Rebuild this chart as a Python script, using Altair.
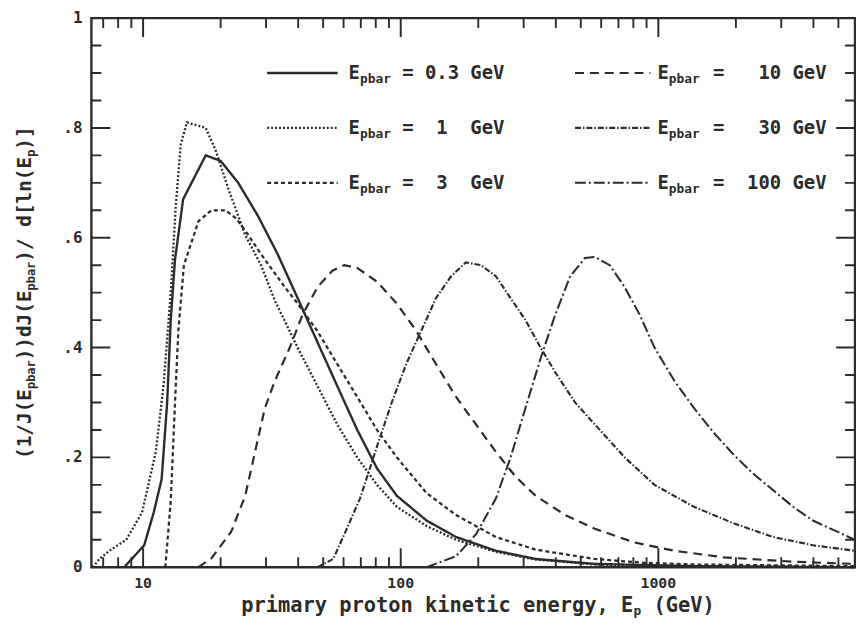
import altair as alt
import pandas as pd

# ---------------- data ----------------
series_labels = ["0.3 GeV", "1 GeV", "3 GeV", "10 GeV", "30 GeV", "100 GeV"]

e_03 = [8.45, 10.1, 11.0, 11.8, 12.4, 12.8, 13.3, 14.3, 17.5, 20.0, 23.4, 27.9, 33.3, 39.8,
        47.5, 56.7, 67.8, 80.9, 96.6, 126, 164, 234, 334, 567, 1374, 5781]
v_03 = [0.0, 0.04, 0.10, 0.16, 0.30, 0.45, 0.56, 0.67, 0.75, 0.74, 0.70, 0.64, 0.57, 0.49,
        0.41, 0.33, 0.25, 0.18, 0.13, 0.085, 0.055, 0.03, 0.015, 0.006, 0.002, 0.0]

e_1 = [6.37, 6.77, 7.40, 8.60, 9.91, 11.2, 12.0, 12.8, 13.4, 14.0, 14.8, 17.5, 19.1, 21.4,
       24.9, 28.7, 32.5, 39.8, 47.5, 56.7, 67.8, 80.9, 96.6, 126, 164, 234, 334, 567, 1374, 5781]
v_1 = [0.0, 0.015, 0.03, 0.05, 0.10, 0.21, 0.33, 0.50, 0.66, 0.77, 0.81, 0.80, 0.76, 0.69,
       0.605, 0.55, 0.485, 0.40, 0.33, 0.26, 0.20, 0.15, 0.11, 0.075, 0.05, 0.028, 0.014,
       0.005, 0.001, 0.0]

e_3 = [12.2, 12.8, 13.3, 13.7, 14.4, 16.4, 18.4, 20.9, 23.0, 25.6, 28.7, 35.5, 39.8, 47.5,
       56.7, 67.8, 80.9, 96.6, 126, 164, 234, 334, 567, 883, 1374, 5781]
v_3 = [0.0, 0.12, 0.30, 0.43, 0.55, 0.63, 0.65, 0.65, 0.635, 0.605, 0.57, 0.51, 0.48, 0.43,
       0.37, 0.31, 0.25, 0.20, 0.135, 0.095, 0.055, 0.032, 0.015, 0.008, 0.005, 0.002]

e_10 = [16.4, 18.4, 22.0, 24.9, 27.2, 29.7, 32.5, 37.1, 41.6, 47.5, 54.3, 60.4, 67.8, 80.9,
        96.6, 115, 137, 164, 196, 234, 279, 334, 435, 567, 809, 1152, 1795, 3334, 5781]
v_10 = [0.0, 0.016, 0.065, 0.13, 0.21, 0.29, 0.34, 0.40, 0.46, 0.51, 0.54, 0.55, 0.545, 0.52,
        0.48, 0.43, 0.37, 0.31, 0.26, 0.21, 0.165, 0.13, 0.095, 0.07, 0.045, 0.03, 0.018,
        0.01, 0.006]

e_30 = [47.5, 54.7, 60.4, 69.5, 80.9, 92.3, 105, 120, 137, 157, 179, 205, 234, 267, 305, 349,
        398, 475, 567, 740, 966, 1374, 1959, 2793, 3981, 5781]
v_30 = [0.0, 0.015, 0.06, 0.125, 0.22, 0.30, 0.37, 0.43, 0.49, 0.53, 0.555, 0.55, 0.53, 0.49,
        0.45, 0.40, 0.355, 0.30, 0.26, 0.20, 0.15, 0.11, 0.08, 0.055, 0.04, 0.03]

e_100 = [126, 164, 196, 234, 267, 305, 349, 398, 455, 519, 567, 648, 740, 846, 966, 1152,
         1374, 1641, 1959, 2339, 2793, 3334, 3981, 5781]
v_100 = [0.0, 0.02, 0.06, 0.125, 0.20, 0.29, 0.38, 0.46, 0.53, 0.563, 0.565, 0.55, 0.51,
         0.46, 0.40, 0.34, 0.29, 0.245, 0.205, 0.17, 0.14, 0.11, 0.085, 0.05]

x_tick_labels = ["10", "100", "1000"]
x_tick_values = [10, 100, 1000]
y_tick_labels = ["0", ".2", ".4", ".6", ".8", "1"]
y_tick_values = [0.0, 0.2, 0.4, 0.6, 0.8, 1.0]

# ---------------- styling / layout ----------------
INK = "#2b2b2b"
FONT = "DejaVu Sans Mono"
ADV = 0.602  # advance width of DejaVu Sans Mono (em)
NB = "\u00a0"
W, H = 769, 553
X_DOMAIN = [6.3, 5800]

xscale = alt.Scale(type="log", domain=X_DOMAIN, nice=False)
yscale = alt.Scale(domain=[0, 1], nice=False, zero=False)

kinds = series_labels + ["major tick", "minor tick"]
dash_range = [[1, 0], [2, 2], [4, 3], [9, 6], [6, 2, 1.5, 2], [11, 3, 2, 3], [1, 0], [1, 0]]
width_range = [2.4, 1.9, 1.8, 1.8, 1.7, 1.7, 2.0, 1.7]
dash_scale = alt.Scale(domain=kinds, range=dash_range)
width_scale = alt.Scale(domain=kinds, range=width_range)

rows = []
for lab, es, vs in zip(series_labels, [e_03, e_1, e_3, e_10, e_30, e_100],
                       [v_03, v_1, v_3, v_10, v_30, v_100]):
    for i, (e, v) in enumerate(zip(es, vs)):
        rows.append({"series": lab, "key": lab, "E": e, "v": v, "order": i})

# ---------------- inward ticks on all four sides (short segments in data space) ----------------
x_minor = [m * 10 ** k for k in range(0, 4) for m in range(2, 10)
           if X_DOMAIN[0] <= m * 10 ** k <= X_DOMAIN[1]]
y_major = [0.2, 0.4, 0.6, 0.8]
y_minor = [round(k * 0.05, 2) for k in range(1, 20) if k % 4 != 0]
X0, X1 = X_DOMAIN
k = 0
for kind, xvals, yvals, length_px in (("major tick", x_tick_values, y_major, 19),
                                       ("minor tick", x_minor, y_minor, 10)):
    fy = length_px / H                  # tick length in y data units
    rx = (X1 / X0) ** (length_px / W)   # tick length as a factor along the log x axis
    segs = []
    for t in xvals:
        segs += [((t, 0.0), (t, fy)), ((t, 1.0), (t, 1.0 - fy))]
    for t in yvals:
        segs += [((X0, t), (X0 * rx, t)), ((X1, t), (X1 / rx, t))]
    for (e1, v1), (e2, v2) in segs:
        key = "tick%d" % k
        rows.append({"series": kind, "key": key, "E": e1, "v": v1, "order": 0})
        rows.append({"series": kind, "key": key, "E": e2, "v": v2, "order": 1})
        k += 1

df = pd.DataFrame(rows)

curves = alt.Chart(df).mark_line(color=INK).encode(
    x=alt.X("E:Q", scale=xscale, axis=None),
    y=alt.Y("v:Q", scale=yscale, axis=None),
    detail="key:N",
    order="order:Q",
    strokeDash=alt.StrokeDash("series:N", scale=dash_scale, legend=None),
    strokeWidth=alt.StrokeWidth("series:N", scale=width_scale, legend=None),
)

# ---------------- tick labels ----------------
xlab = alt.Chart(pd.DataFrame({"t": x_tick_values, "lab": x_tick_labels})).mark_text(
    font=FONT, fontWeight="bold", fontSize=15, color=INK, baseline="middle", align="center"
).encode(x=alt.X("t:Q", scale=xscale, axis=None), y=alt.value(H + 16), text="lab:N")

ylab = alt.Chart(pd.DataFrame({"t": y_tick_values, "lab": y_tick_labels})).mark_text(
    font=FONT, fontWeight="bold", fontSize=16, color=INK, baseline="middle", align="right"
).encode(y=alt.Y("t:Q", scale=yscale, axis=None), x=alt.value(-9), text="lab:N")


# ---------------- axis titles (with subscripts) ----------------
def chain(pieces, start, fs_main, fs_sub, direction):
    """pieces: (text, is_subscript, gap_in_chars_before)"""
    out, cur = [], start
    for txt, sub, gap in pieces:
        fs = fs_sub if sub else fs_main
        cur += direction * gap * ADV * fs
        out.append({"txt": txt, "pos": cur, "fs": fs, "sub": sub})
        cur += direction * len(txt) * ADV * fs
    return out


xt_rows = chain([("primary proton kinetic energy, E", False, 0), ("p", True, 0),
                 ("(GeV)", False, 1)], 151, 20.5, 13, 1)
xt_df = pd.DataFrame([{"txt": r["txt"], "px": r["pos"], "py": 598 + (3 if r["sub"] else 0),
                       "fs": r["fs"]} for r in xt_rows])
xtitle = alt.Chart(xt_df).mark_text(font=FONT, fontWeight="bold", color=INK, align="left",
                                    baseline="alphabetic").encode(
    x=alt.X("px:Q", scale=None, axis=None), y=alt.Y("py:Q", scale=None, axis=None),
    text="txt:N", size=alt.Size("fs:Q", scale=None, legend=None))

yt_rows = chain([("(1/J(E", False, 0), ("pbar", True, 0), ("))dJ(E", False, 0), ("pbar", True, 0),
                 (")/" + NB + "d[ln(E", False, 0), ("p", True, 0), (")]", False, 0)],
                444, 19.5, 12, -1)
yt_df = pd.DataFrame([{"txt": r["txt"], "py": r["pos"], "px": -67 + (6 if r["sub"] else 0),
                       "fs": r["fs"]} for r in yt_rows])
ytitle = alt.Chart(yt_df).mark_text(font=FONT, fontWeight="bold", color=INK, align="left",
                                    baseline="middle", angle=270).encode(
    x=alt.X("px:Q", scale=None, axis=None), y=alt.Y("py:Q", scale=None, axis=None),
    text="txt:N", size=alt.Size("fs:Q", scale=None, legend=None))

# ---------------- legend (two columns, three rows) ----------------
legend_rest = ["=" + NB + "0.3" + NB + "GeV",
               "=" + NB + NB + "1" + NB + NB + "GeV",
               "=" + NB + NB + "3" + NB + NB + "GeV",
               "=" + NB * 3 + "10" + NB + "GeV",
               "=" + NB * 3 + "30" + NB + "GeV",
               "=" + NB * 2 + "100" + NB + "GeV"]
col_line = [(177, 248), (487, 563)]
col_E = [259, 570]
col_rest = [313, 626]
row_y = [H * 0.1, H * 0.2, H * 0.3]
LFS, LSUB = 19, 13

leg_rows = []
for i, lab in enumerate(series_labels):
    c, r = i // 3, i % 3
    ex = col_E[c]
    leg_rows.append({"series": lab, "x1": col_line[c][0], "x2": col_line[c][1], "y": row_y[r],
                     "ex": ex, "sx": ex + ADV * LFS, "rx": col_rest[c], "sy": row_y[r] + 6,
                     "rest": legend_rest[i]})
leg_df = pd.DataFrame(leg_rows)

leg_lines = alt.Chart(leg_df).mark_rule(color=INK).encode(
    x=alt.X("x1:Q", scale=None, axis=None), x2="x2:Q",
    y=alt.Y("y:Q", scale=None, axis=None),
    strokeDash=alt.StrokeDash("series:N", scale=dash_scale, legend=None),
    strokeWidth=alt.StrokeWidth("series:N", scale=width_scale, legend=None))

leg_E = alt.Chart(leg_df).mark_text(font=FONT, fontWeight="bold", fontSize=LFS, color=INK,
                                    align="left", baseline="middle", text="E").encode(
    x=alt.X("ex:Q", scale=None, axis=None), y=alt.Y("y:Q", scale=None, axis=None))
leg_sub = alt.Chart(leg_df).mark_text(font=FONT, fontWeight="bold", fontSize=LSUB, color=INK,
                                      align="left", baseline="middle", text="pbar").encode(
    x=alt.X("sx:Q", scale=None, axis=None), y=alt.Y("sy:Q", scale=None, axis=None))
leg_rest = alt.Chart(leg_df).mark_text(font=FONT, fontWeight="bold", fontSize=LFS, color=INK,
                                       align="left", baseline="middle").encode(
    x=alt.X("rx:Q", scale=None, axis=None), y=alt.Y("y:Q", scale=None, axis=None),
    text="rest:N")

chart = alt.layer(
    curves, xlab, ylab, xtitle, ytitle, leg_lines, leg_E, leg_sub, leg_rest
).properties(
    width=W, height=H,
    padding={"left": 84, "top": 8, "right": 1, "bottom": 52},
    autosize=alt.AutoSizeParams(type="none"),
    background="white",
).configure_view(stroke=INK, strokeWidth=2.4)

chart.save("out.html", embed_options={"renderer": "svg", "actions": False})
